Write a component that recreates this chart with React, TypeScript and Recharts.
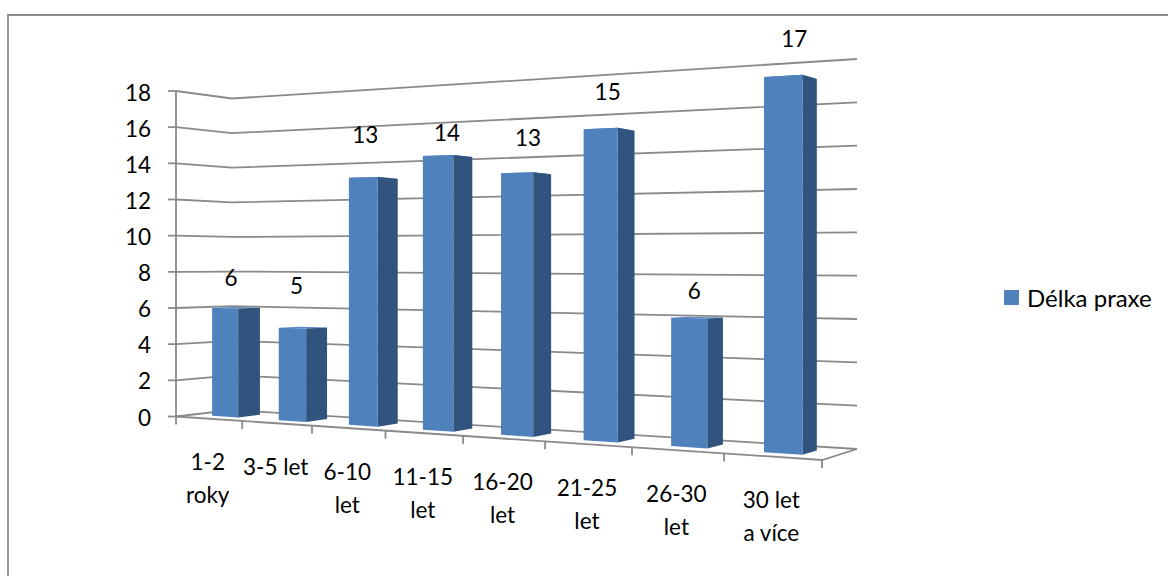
import { BarChart, Bar, XAxis, YAxis, CartesianGrid, LabelList, Legend, Customized } from 'recharts'

const categories = ['1-2\nroky', '3-5 let', '6-10\nlet', '11-15\nlet', '16-20\nlet', '21-25\nlet', '26-30\nlet', '30 let\na více']
const praxe = [6, 5, 13, 14, 13, 15, 6, 17]
const yTicks = [0, 2, 4, 6, 8, 10, 12, 14, 16, 18]
const seriesName = 'Délka praxe'

// hand placement of the value labels above each bar: [dx, lift]
const labelShift = [
  [6, 30], [4, 42], [2, 43], [9, 24], [11, 36], [7, 38], [5, 27], [11, 39],
]

const data = categories.map((name, i) => ({ name, praxe: praxe[i] }))

const FONT = 'Lato, "Open Sans", sans-serif'
const GRID = '#8a8a8a'
const FRONT = '#4f81bd'
const SIDE = '#31547f'
const TOP = '#5a8ac2'
const AXIS_SIZE = 22.5

const PLOT = { left: 176, top: 91, width: 646, height: 325 }
const PERSPECTIVE = 1.25
const BAR_FRONT = 0.3
const BAR_BACK = 0.7

const mix = (a: number, b: number, t: number) => a + (b - a) * t

// flat plot fractions -> 3D box on screen (u along x, v up the value axis, d into the depth)
function project(u: number, v: number, d: number) {
  const t = u / (u + (1 - u) * PERSPECTIVE)
  const x = mix(mix(176, 822, t), mix(232, 857, t), d)
  const frontY = mix(mix(416.5, 460, t), mix(91, 46.7, t), v)
  const backY = mix(mix(410, 449, t), mix(98.5, 59, t), v)
  return { x, y: mix(frontY, backY, d) }
}

const toU = (x: number) => (x - PLOT.left) / PLOT.width
const toV = (y: number) => (PLOT.top + PLOT.height - y) / PLOT.height

const poly = (pts: { x: number; y: number }[]) => pts.map((p) => `${p.x},${p.y}`).join(' ')

function Bar3D(props: any) {
  const { x, y, width, fill } = props
  const u0 = toU(x)
  const u1 = toU(x + width)
  const v = toV(y)
  const front = [project(u0, 0, BAR_FRONT), project(u1, 0, BAR_FRONT), project(u1, v, BAR_FRONT), project(u0, v, BAR_FRONT)]
  const side = [project(u1, 0, BAR_FRONT), project(u1, 0, BAR_BACK), project(u1, v, BAR_BACK), project(u1, v, BAR_FRONT)]
  const top = [project(u0, v, BAR_FRONT), project(u1, v, BAR_FRONT), project(u1, v, BAR_BACK), project(u0, v, BAR_BACK)]
  return (
    <g>
      <polygon points={poly(top)} fill={TOP} />
      <polygon points={poly(side)} fill={SIDE} />
      <polygon points={poly(front)} fill={fill} />
    </g>
  )
}

// wall + back line for one value level
function GridLevel(props: any) {
  const v = toV(props.y1)
  const pts = [project(0, v, 0), project(0, v, 1), project(1, v, 1)]
  return (
    <g>
      <line x1={PLOT.left - 8} y1={pts[0].y} x2={PLOT.left} y2={pts[0].y} stroke={GRID} strokeWidth={1.8} />
      <polyline points={poly(pts)} fill="none" stroke={GRID} strokeWidth={1.8} />
    </g>
  )
}

function FloorEdges() {
  const edge = [project(0, 0, 0), project(1, 0, 0), project(1, 0, 1)]
  return (
    <g>
      <polyline points={poly(edge)} fill="none" stroke={GRID} strokeWidth={1.8} />
      {categories.concat('').map((_, i) => {
        const p = project(i / categories.length, 0, 0)
        return <line key={i} x1={p.x} y1={p.y} x2={p.x} y2={p.y + 8} stroke={GRID} strokeWidth={1.8} />
      })}
    </g>
  )
}

function CategoryTick(props: any) {
  const { x, payload } = props
  const p = project(toU(x), 0, 0)
  const lines = String(payload.value).split('\n')
  return (
    <text x={p.x - 1} y={p.y + 51.5} textAnchor="middle" fontFamily={FONT} fontSize={AXIS_SIZE} fill="#000">
      {lines.map((line, i) => (
        <tspan key={i} x={p.x - 1} dy={i === 0 ? 0 : 33}>{line}</tspan>
      ))}
    </text>
  )
}

function ValueTick(props: any) {
  const { x, y, payload } = props
  return (
    <text x={x} y={y + 9.5} textAnchor="end" fontFamily={FONT} fontSize={AXIS_SIZE} fill="#000">
      {payload.value}
    </text>
  )
}

function BarValue(props: any) {
  const { x, y, width, value, index } = props
  const p = project(toU(x), toV(y), BAR_FRONT)
  const q = project(toU(x + width), toV(y), BAR_FRONT)
  const [dx, lift] = labelShift[index]
  return (
    <text x={(p.x + q.x) / 2 + dx} y={p.y - lift + 8.5} textAnchor="middle" fontFamily={FONT} fontSize={AXIS_SIZE} fill="#000">
      {value}
    </text>
  )
}

function LegendBox({ payload }: any) {
  return (
    <div style={{ display: 'flex', alignItems: 'center', fontFamily: FONT, fontSize: 24, color: '#000', whiteSpace: 'nowrap' }}>
      {(payload ?? []).map((entry: any) => (
        <span key={entry.value} style={{ display: 'flex', alignItems: 'center' }}>
          <span style={{ width: 15, height: 15, background: entry.color, marginRight: 8 }} />
          {entry.value}
        </span>
      ))}
    </div>
  )
}

export default function App() {
  return (
    <div style={{ position: 'absolute', left: 0, top: 0, width: 1168, height: 576, background: '#fff', overflow: 'hidden' }}>
      <div style={{ position: 'absolute', left: 7, top: 14, width: 1200, height: 600, borderLeft: '2px solid #999', borderTop: '2px solid #8c8c8c' }} />
      <div style={{ position: 'absolute', left: 0, top: 0 }}>
        <BarChart
          width={1168}
          height={576}
          data={data}
          barCategoryGap="30%"
          margin={{ top: PLOT.top, left: PLOT.left - 50, right: 1168 - PLOT.left - PLOT.width, bottom: 576 - PLOT.top - PLOT.height - 60 }}
        >
          <CartesianGrid vertical={false} horizontal={(p: any) => <GridLevel key={p.key} {...p} />} />
          <XAxis dataKey="name" interval={0} height={60} axisLine={false} tickLine={false} tick={<CategoryTick />} />
          <YAxis
            width={50}
            domain={[0, 18]}
            ticks={yTicks}
            interval={0}
            tickSize={8}
            tickMargin={17}
            axisLine={{ stroke: GRID, strokeWidth: 1.8 }}
            tickLine={false}
            tick={<ValueTick />}
          />
          <Customized component={<FloorEdges />} />
          <Bar dataKey="praxe" name={seriesName} fill={FRONT} shape={<Bar3D />} isAnimationActive={false}>
            <LabelList dataKey="praxe" content={<BarValue />} />
          </Bar>
          <Legend
            layout="horizontal"
            verticalAlign="middle"
            content={<LegendBox />}
            wrapperStyle={{ left: 1004, top: 283, width: 164 }}
          />
        </BarChart>
      </div>
    </div>
  )
}
